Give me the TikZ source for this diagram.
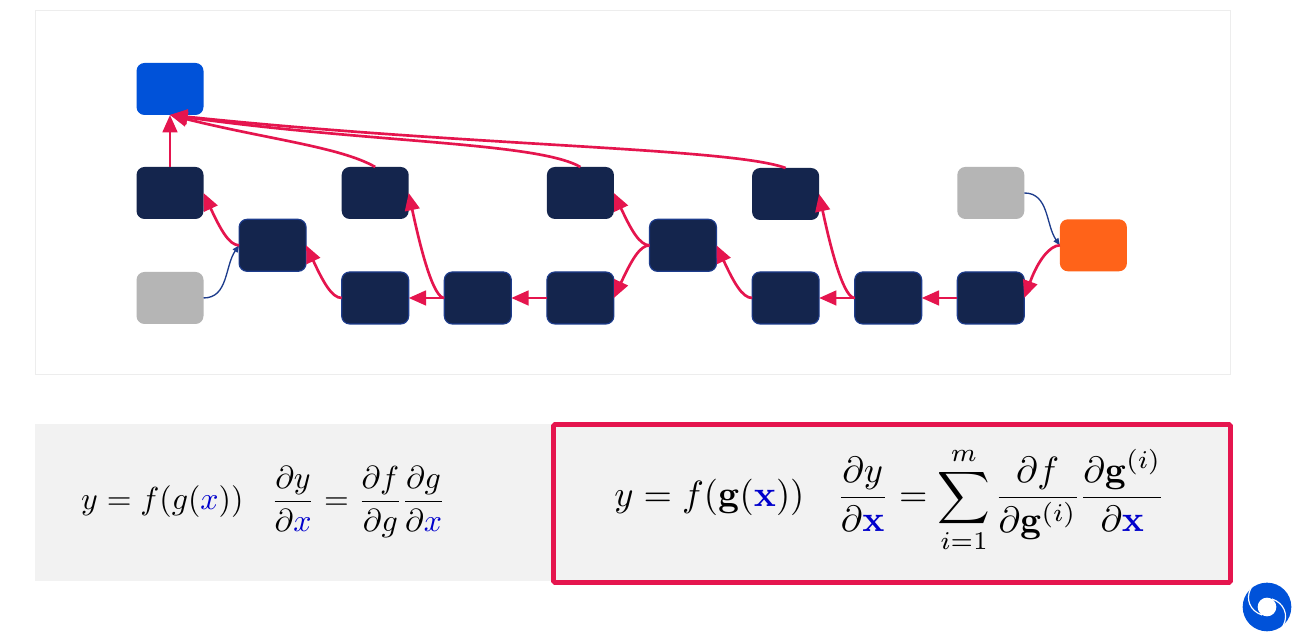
\documentclass[tikz,border=0pt]{standalone}
\usepackage{graphicx}
\usetikzlibrary{arrows.meta}
\definecolor{navyfill}{HTML}{14254D}
\definecolor{navyedge}{HTML}{1D3C8C}
\definecolor{redline}{HTML}{E5154E}
\definecolor{mathblue}{HTML}{0000CC}
\tikzstyle{block} = [rectangle, fill=navyfill, minimum width=20.1pt,
    minimum height=15.6pt, inner sep=0pt, outer sep=0pt, rounded corners=2.4pt]
\tikzstyle{edgeblock} = [block, draw=navyedge, line width=0.35pt]
\tikzstyle{inputblock} = [block, fill=black!29]
\tikzstyle{outputblock} = [block, fill={rgb,255:red,0;green,82;blue,217}]
\tikzstyle{lossblock} = [block, fill={rgb,255:red,255;green,99;blue,25}]
\tikzstyle{panel} = [rectangle, inner sep=0pt, outer sep=0pt, fill=black!5]
\tikzstyle{line} = [draw=redline, line width=0.8pt, -{Triangle[length=5.2pt,width=4.4pt]}]
\tikzstyle{thinline} = [draw=navyedge, line width=0.4pt, -{Triangle[length=2.1pt,width=1.7pt]}]
\tikzstyle{tight} = [out=180, out distance=3pt, in distance=12pt]
\begin{document}
\begin{tikzpicture}[x=0.3pt, y=0.3pt, node distance=30.78pt]
    \useasboundingbox (0,0) rectangle (1306,641);
    % Panels
    \node [panel, fill=white, draw=black!7, line width=0.2pt, minimum width=358.5pt,
        minimum height=109.2pt] (graphpanel) at (632.5,449) {};
    \node [panel, minimum width=155pt, minimum height=47.1pt] (chainpanel) at (293,138.5) {};
    \node [panel, draw=redline, line width=1.4pt, minimum width=203.1pt, minimum height=47.4pt,
        rounded corners=0.4pt] (sumpanel) at (892,137.5) {};
    \node (chaintext) at (263.5,139)
        {\scalebox{0.955}{$\displaystyle y=f(g({\color{mathblue}x}))\hspace{8.6pt}
        \frac{\partial y}{\partial {\color{mathblue}x}}
        =\frac{\partial f}{\partial g}\mkern-1mu\frac{\partial g}{\partial {\color{mathblue}x}}$}};
    \node (sumtext) at (890,141)
        {\scalebox{1.095}{$\displaystyle y=f(\mathbf{g}({\color{mathblue}\mathbf{x}}))\hspace{8.8pt}
        \frac{\partial y}{\partial {\color{mathblue}\mathbf{x}}}
        =\sum_{i=1}^{m}\mkern-1mu\frac{\partial f}{\partial \mathbf{g}^{(i)}}\mkern-1mu
        \frac{\partial \mathbf{g}^{(i)}}{\partial {\color{mathblue}\mathbf{x}}}$}};
    % Place nodes
    \node [outputblock] (output) at (170,552) {};
    \node [block, below of=output, node distance=31.2pt] (sumA) {};
    \node [inputblock, below of=sumA, node distance=31.5pt] (inputA) {};
    \node [edgeblock, right of=inputA, yshift=15.8pt] (addA) {};
    \node [edgeblock, right of=addA, yshift=-15.8pt] (addB) {};
    \node [block, above of=addB, node distance=31.5pt] (sumB) {};
    \node [edgeblock, right of=addB] (addC) {};
    \node [edgeblock, right of=addC] (addD) {};
    \node [block, above of=addD, node distance=31.5pt] (sumC) {};
    \node [edgeblock, right of=addD, yshift=15.8pt] (addE) {};
    \node [edgeblock, right of=addE, yshift=-15.8pt] (addF) {};
    \node [block, above of=addF, node distance=31.2pt] (sumD) {};
    \node [edgeblock, right of=addF] (addG) {};
    \node [edgeblock, right of=addG] (addH) {};
    \node [inputblock, above of=addH, node distance=31.5pt] (inputB) {};
    \node [lossblock, right of=addH, yshift=15.8pt] (loss) {};
    % Draw edges
    \path [thinline] (inputA.east) to [out=0, in=-125] (addA.west);
    \path [thinline] (inputB.east) to [out=0, in=125] (loss.west);
    \path [line] (loss.west) to [tight, in=70] (addH.east);
    \path [line] (addH.west) -- (addG.east);
    \path [line] (addG.west) -- (addF.east);
    \path [line] (addG.west) to [tight, in=-78, in distance=20pt] (sumD.east);
    \path [line] (addF.west) to [tight, in=-65] (addE.east);
    \path [line] (addE.west) to [tight, in=-65] (sumC.east);
    \path [line] (addE.west) to [tight, in=65] (addD.east);
    \path [line] (addD.west) -- (addC.east);
    \path [line] (addC.west) -- (addB.east);
    \path [line] (addC.west) to [tight, in=-78, in distance=20pt] (sumB.east);
    \path [line] (addB.west) to [tight, in=-65] (addA.east);
    \path [line] (addA.west) to [tight, in=-65] (sumA.east);
    \path [line] (sumA.north) -- (output.south);
    \path [line] (sumB.north) to [out=150, out distance=12pt, in=-14, in distance=30pt] (output.south);
    \path [line] (sumC.north) to [out=150, out distance=15pt, in=-8, in distance=60pt] (output.south);
    \path [line] (sumD.north) to [out=160, out distance=18pt, in=-6, in distance=90pt] (output.south);
    % Logo
    \node [circle, fill={rgb,255:red,0;green,82;blue,217}, minimum size=14.6pt, inner sep=0pt,
        outer sep=0pt] (logo) at (1267,34) {};
    \fill [white] (logo.center) circle (2.8pt);
    \draw [white, line width=0.35pt, shift={(logo.center)}] (-16,19) .. controls (-22,8) and (-17,-4) .. (-5,-8);
    \draw [white, line width=0.35pt, shift={(logo.center)}] (16,-19) .. controls (22,-8) and (17,4) .. (5,8);
\end{tikzpicture}
\end{document}
